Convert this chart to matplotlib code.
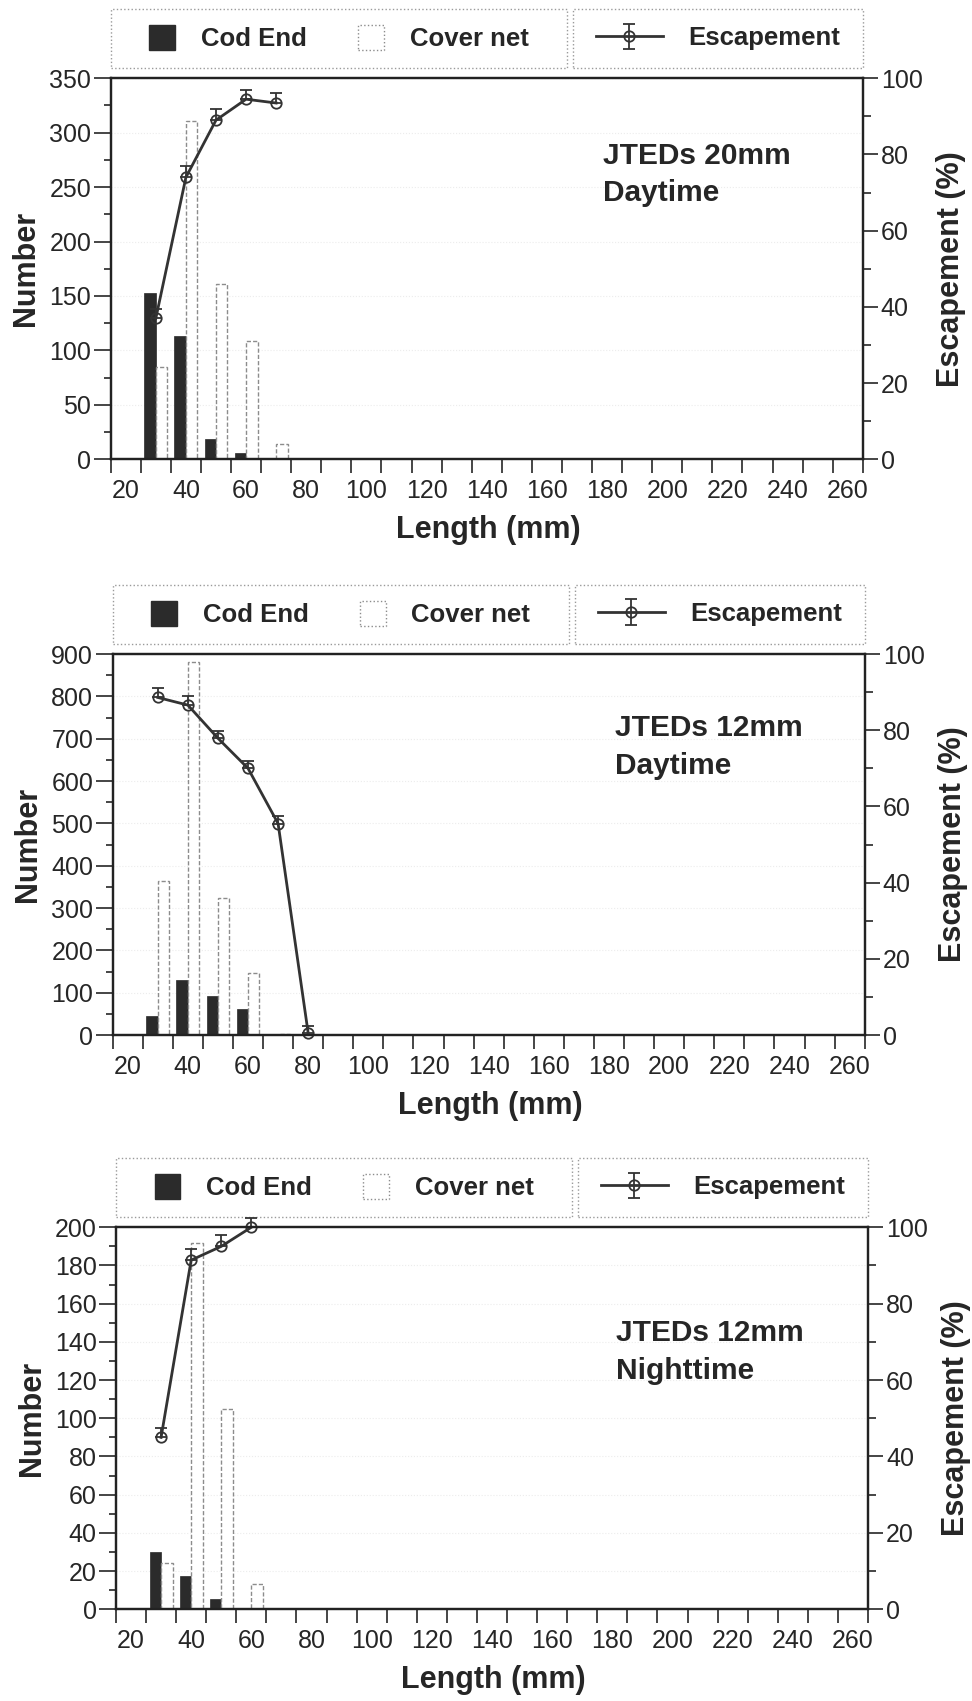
import numpy as np
import matplotlib.pyplot as plt
from matplotlib.patches import Rectangle, Patch
from matplotlib.ticker import MultipleLocator, FixedLocator, NullFormatter

plt.rcParams['font.family'] = ['Liberation Sans', 'DejaVu Sans']
plt.rcParams['text.color'] = '#262626'
plt.rcParams['axes.labelcolor'] = '#262626'
plt.rcParams['xtick.color'] = '#262626'
plt.rcParams['ytick.color'] = '#262626'

# length classes (mm), one pair of bars per class
length_classes = [30, 40, 50, 60, 70, 80]
xtick_labels = ['20', '40', '60', '80', '100', '120', '140', '160',
                '180', '200', '220', '240', '260']

# JTEDs 20mm, daytime
cod_20_day = [153, 113, 19, 6, 0, 0]
cover_20_day = [85, 311, 161, 109, 14, 0]
esc_x_20_day = [30, 40, 50, 60, 70]
esc_20_day = [37, 74, 89, 94.5, 93.5]
err_20_day = [2.5, 3, 3, 2.5, 2.5]

# JTEDs 12mm, daytime
cod_12_day = [46, 131, 93, 61, 2, 1]
cover_12_day = [364, 882, 324, 146, 3, 0]
esc_x_12_day = [30, 40, 50, 60, 70, 80]
esc_12_day = [88.6, 86.6, 77.9, 70, 55.5, 0.5]
err_12_day = [2.5, 2.5, 2, 2, 2, 2]

# JTEDs 12mm, nighttime
cod_12_night = [30, 17.6, 5.2, 0, 0, 0]
cover_12_night = [24, 192, 105, 13, 0, 0]
esc_x_12_night = [30, 40, 50, 60]
esc_12_night = [45, 91.4, 95, 100]
err_12_night = [2.5, 3, 3, 2.5]

dark = '#2b2b2b'
spine_c = '#222222'
tick_fs = 18
label_fs = 22


def draw_panel(fig, rect, cod, cover, esc_x, esc, err, ymax, ymaj, ymin, tag):
    ax = fig.add_axes(rect)
    x = np.array(length_classes)
    ax.set_axisbelow(True)
    ax.yaxis.grid(True, color='#ececec', ls=':', lw=0.8)
    ax.bar(x - 1.9, cod, width=3.8, color=dark, edgecolor=dark, lw=0.5)
    ax.bar(x + 1.9, cover, width=3.8, facecolor='white',
           edgecolor='#8c8c8c', lw=1.0, ls=(0, (3, 1.5)))

    ax.set_xlim(15, 265)
    ax.set_ylim(0, ymax)
    ax.xaxis.set_major_locator(FixedLocator(np.arange(15, 266, 10)))
    ax.xaxis.set_major_formatter(NullFormatter())
    ax.set_xticks(np.arange(20, 261, 20), minor=True)
    ax.set_xticklabels(xtick_labels, minor=True, fontsize=tick_fs)
    ax.tick_params(axis='x', which='major', length=10, width=1.2, direction='out')
    ax.tick_params(axis='x', which='minor', length=0, pad=14)
    ax.yaxis.set_major_locator(MultipleLocator(ymaj))
    ax.yaxis.set_minor_locator(MultipleLocator(ymin))
    ax.tick_params(axis='y', which='major', length=12, width=1.2, labelsize=tick_fs, pad=2)
    ax.tick_params(axis='y', which='minor', length=5, width=1.2)
    for s in ax.spines.values():
        s.set_color(spine_c)
        s.set_linewidth(1.6)

    ax.set_xlabel('Length (mm)', fontsize=label_fs, fontweight='bold')
    ax.xaxis.label.set_va('center')
    ax.xaxis.set_label_coords(0.502, -0.186)
    ax.set_ylabel('Number', fontsize=label_fs, fontweight='bold')
    ax.yaxis.label.set_va('center')
    ax.yaxis.set_label_coords(-0.112, 0.5)

    ax2 = ax.twinx()
    eb = ax2.errorbar(esc_x, esc, yerr=[np.zeros(len(err)), err], color='#333333',
                      lw=2, marker='o', ms=7.5, mfc='none', mec='#333333', mew=1.3,
                      capsize=4.5, elinewidth=1.3, capthick=1.3)
    for art in eb.lines[0:1] + tuple(eb.lines[1]) + tuple(eb.lines[2]):
        art.set_clip_on(False)
    ax2.set_ylim(0, 100)
    ax2.yaxis.set_major_locator(MultipleLocator(20))
    ax2.yaxis.set_minor_locator(MultipleLocator(10))
    ax2.tick_params(axis='y', which='major', length=11, width=1.2, labelsize=tick_fs, pad=2)
    ax2.tick_params(axis='y', which='minor', length=6, width=1.2)
    for s in ax2.spines.values():
        s.set_color(spine_c)
        s.set_linewidth(1.6)
    ax2.set_ylabel('Escapement (%)', fontsize=label_fs, fontweight='bold')
    ax2.yaxis.label.set_va('center')
    ax2.yaxis.set_label_coords(1.117, 0.5)

    ax.text(tag[1], tag[2], tag[0], transform=ax.transAxes, ha='left', va='center',
            fontsize=21.5, fontweight='bold', linespacing=1.45)

    # legend boxes above the plot
    y0, h = 1.027, 0.155
    for x0, x1 in [(0.0, 0.607), (0.615, 1.0)]:
        ax.add_patch(Rectangle((x0, y0), x1 - x0, h, transform=ax.transAxes,
                               fill=False, edgecolor='#9a9a9a', lw=1, ls=':',
                               clip_on=False))
    cod_patch = Patch(facecolor=dark, edgecolor=dark)
    cover_patch = Patch(facecolor='white', edgecolor='#8c8c8c', lw=1, ls=':')
    leg1 = ax.legend([cod_patch, cover_patch], ['Cod End', 'Cover net'], loc='center',
                     bbox_to_anchor=(0.3035, y0 + h / 2), ncol=2, frameon=False,
                     prop=dict(weight='bold', size=18.5), handlelength=1.0,
                     handleheight=1.1, handletextpad=1.0, columnspacing=2.0)
    ax.add_artist(leg1)
    ax.legend([eb], ['Escapement'], loc='center', bbox_to_anchor=(0.8075, y0 + h / 2),
              frameon=False, prop=dict(weight='bold', size=18.5), handlelength=2.6,
              handletextpad=1.0)
    return ax


fig = plt.figure(figsize=(9.72, 17.01), dpi=100)
draw_panel(fig, [0.1139, 0.7300, 0.7737, 0.2240], cod_20_day, cover_20_day,
           esc_x_20_day, esc_20_day, err_20_day, 350, 50, 25,
           ('JTEDs 20mm\nDaytime', 0.655, 0.7475))
draw_panel(fig, [0.1159, 0.3915, 0.7737, 0.2240], cod_12_day, cover_12_day,
           esc_x_12_day, esc_12_day, err_12_day, 900, 100, 50,
           ('JTEDs 12mm\nDaytime', 0.668, 0.757))
draw_panel(fig, [0.1193, 0.0539, 0.7737, 0.2246], cod_12_night, cover_12_night,
           esc_x_12_night, esc_12_night, err_12_night, 200, 20, 10,
           ('JTEDs 12mm\nNighttime', 0.665, 0.674))

fig.savefig('out.png', dpi=100)
